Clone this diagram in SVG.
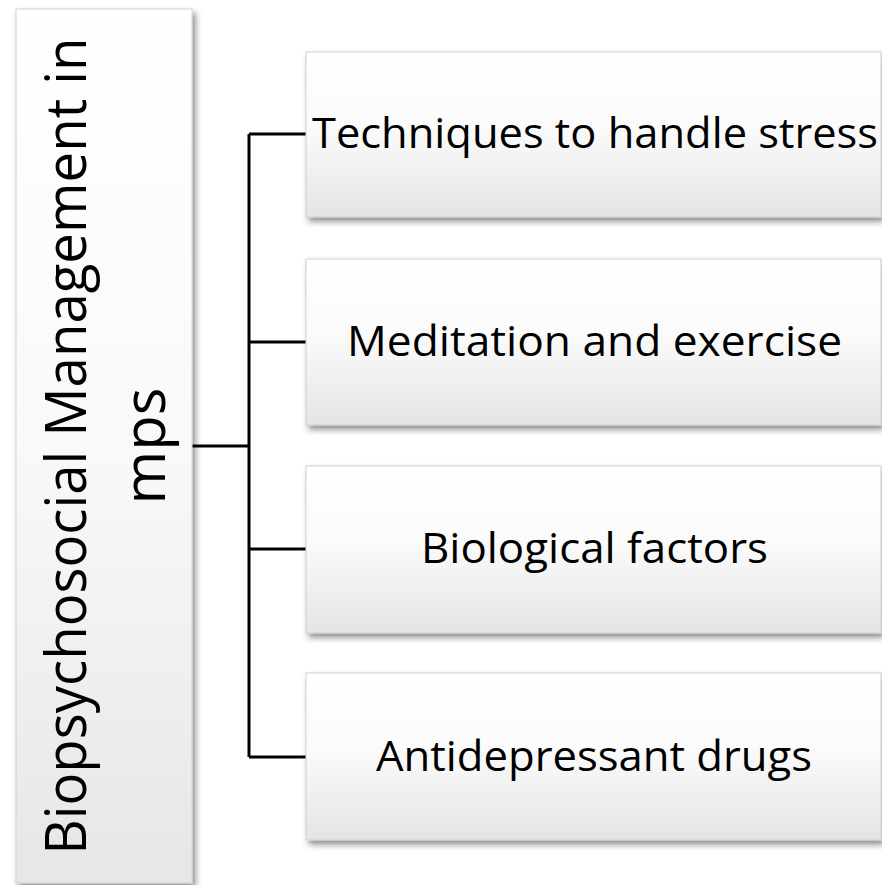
<svg xmlns="http://www.w3.org/2000/svg" width="882" height="885" viewBox="0 0 882 885">
<defs>
<linearGradient id="g" x1="0" y1="0" x2="0" y2="1">
<stop offset="0" stop-color="#ffffff"/>
<stop offset="0.45" stop-color="#fbfbfb"/>
<stop offset="1" stop-color="#e4e4e4"/>
</linearGradient>
<linearGradient id="gl" x1="0" y1="0" x2="0" y2="1">
<stop offset="0" stop-color="#ffffff"/>
<stop offset="0.5" stop-color="#f9f9f9"/>
<stop offset="1" stop-color="#e6e6e6"/>
</linearGradient>
<filter id="sh" x="-10%" y="-10%" width="130%" height="130%">
<feDropShadow dx="3" dy="4" stdDeviation="3" flood-color="#000" flood-opacity="0.45"/>
</filter>
</defs>
<style>
.box{stroke:#d0d0d0;stroke-width:1;filter:url(#sh)}
.t{font-family:"Open Sans","Noto Sans",sans-serif;fill:#000}
.c{stroke:#000;stroke-width:3;fill:none}
</style>
<rect width="882" height="885" fill="#fff"/>
<g id="connectors">
<path class="c" d="M192 446H249M249 134V757M249 134H307M249 342H307M249 549H307M249 757H307"/>
</g>
<g id="root">
<rect class="box" x="16" y="9" width="176" height="874" fill="url(#gl)"/>
<text class="t" font-size="57" transform="translate(86 446) rotate(-90)" text-anchor="middle" textLength="817" lengthAdjust="spacingAndGlyphs">Biopsychosocial Management in</text>
<text class="t" font-size="58" transform="translate(165 446) rotate(-90)" text-anchor="middle">mps</text>
</g>
<g id="n1">
<rect class="box" x="306" y="52" width="575" height="165" fill="url(#g)"/>
<text class="t" x="312" y="148" font-size="42" textLength="566" lengthAdjust="spacingAndGlyphs">Techniques to handle stress</text>
</g>
<g id="n2">
<rect class="box" x="306" y="259" width="575" height="166" fill="url(#g)"/>
<text class="t" x="347" y="356" font-size="42" textLength="495" lengthAdjust="spacingAndGlyphs">Meditation and exercise</text>
</g>
<g id="n3">
<rect class="box" x="306" y="466" width="575" height="167" fill="url(#g)"/>
<text class="t" x="421" y="563" font-size="42" textLength="347" lengthAdjust="spacingAndGlyphs">Biological factors</text>
</g>
<g id="n4">
<rect class="box" x="306" y="673" width="575" height="167" fill="url(#g)"/>
<text class="t" x="376" y="771" font-size="42" textLength="436" lengthAdjust="spacingAndGlyphs">Antidepressant drugs</text>
</g>
</svg>
